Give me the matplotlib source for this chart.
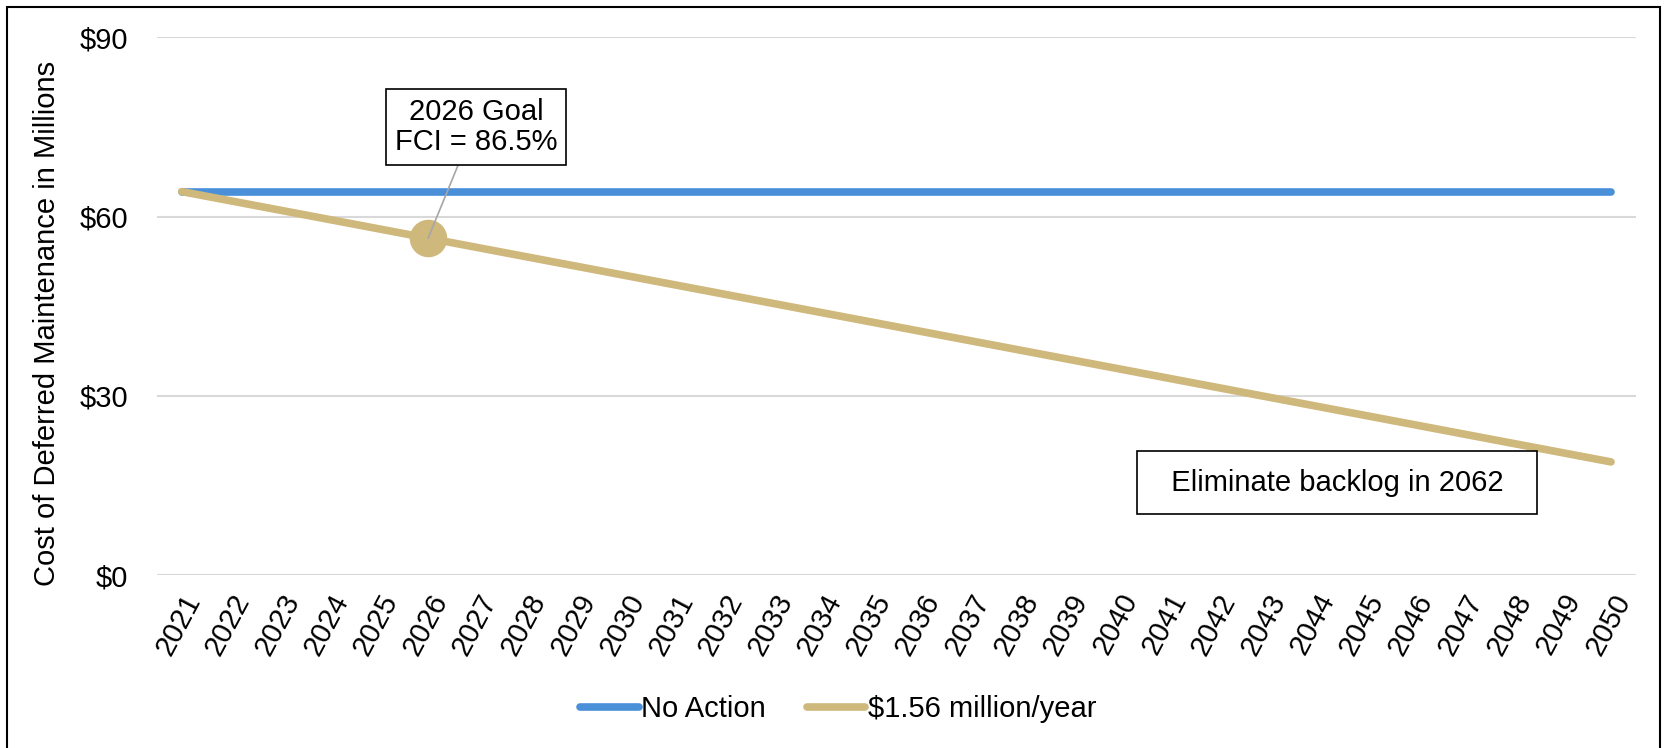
import matplotlib
matplotlib.use('Agg')
from matplotlib import pyplot as plt
from matplotlib.patches import Rectangle

years = [str(y) for y in range(2021, 2051)]
no_action = [64.2] * 30
plan = [64.20, 62.64, 61.08, 59.52, 57.96, 56.40, 54.84, 53.28, 51.72, 50.16,
        48.60, 47.04, 45.48, 43.92, 42.36, 40.80, 39.24, 37.68, 36.12, 34.56,
        33.00, 31.44, 29.88, 28.32, 26.76, 25.20, 23.64, 22.08, 20.52, 18.96]
y_ticks = [0, 30, 60, 90]
goal_year = '2026'

BLUE = '#4A90D9'
GOLD = '#CFB87C'
FS = 21

plt.rcParams['font.family'] = ['Liberation Sans', 'DejaVu Sans']

fig = plt.figure(figsize=(16.67, 7.48), dpi=100)
ax = fig.add_axes([0.0942, 0.231, 0.887, 0.719])

x = list(range(len(years)))
ax.plot(x, no_action, color=BLUE, lw=5.5, solid_capstyle='round', label='No Action', zorder=3)
ax.plot(x, plan, color=GOLD, lw=5.5, solid_capstyle='round', label='$1.56 million/year', zorder=3)

gi = years.index(goal_year)
ax.plot(gi, plan[gi], 'o', color=GOLD, ms=26, zorder=4)

ax.annotate('2026 Goal\nFCI = 86.5%', xy=(gi, plan[gi]), xytext=(5.98, 75.0),
            ha='center', va='center', fontsize=FS, linespacing=1.1,
            bbox=dict(boxstyle='square,pad=0.3', fc='white', ec='black', lw=1.2),
            arrowprops=dict(arrowstyle='-', color='#A6A6A6', lw=1.2, relpos=(0.41, 0),
                            shrinkA=0, shrinkB=0),
            zorder=6)

ax.text(23.44, 15.5, '  Eliminate backlog in 2062  ', ha='center', va='center', fontsize=FS,
        bbox=dict(boxstyle='square,pad=0.6', fc='white', ec='black', lw=1.2), zorder=6)

ax.set_xlim(-0.5, len(years) - 0.5)
ax.set_ylim(0, 90)
ax.set_yticks(y_ticks)
ax.set_yticklabels([f'${v}' for v in y_ticks])
ax.set_xticks(x)
ax.set_xticklabels(years, rotation=62, ha='right', rotation_mode='anchor')
ax.tick_params(axis='both', length=0, labelsize=FS)
ax.tick_params(axis='y', pad=21)
ax.tick_params(axis='x', pad=10)
ax.grid(axis='y', color='#D9D9D9', lw=1.5)
ax.set_axisbelow(True)
for s in ax.spines.values():
    s.set_visible(False)

fig.text(0.028, 0.567, 'Cost of Deferred Maintenance in Millions', rotation=90,
         ha='center', va='center', fontsize=FS)

fig.legend(loc='center', bbox_to_anchor=(0.503, 0.052), ncol=2, frameon=False,
           fontsize=FS, handlelength=2.0, handletextpad=0.1, columnspacing=1.4)

fig.add_artist(Rectangle((7 / 1667, -0.01), (1660 - 7) / 1667, 1 - 7 / 748 + 0.01,
                         transform=fig.transFigure, fill=False, ec='black', lw=1.5))

fig.savefig('out.png', dpi=100)
